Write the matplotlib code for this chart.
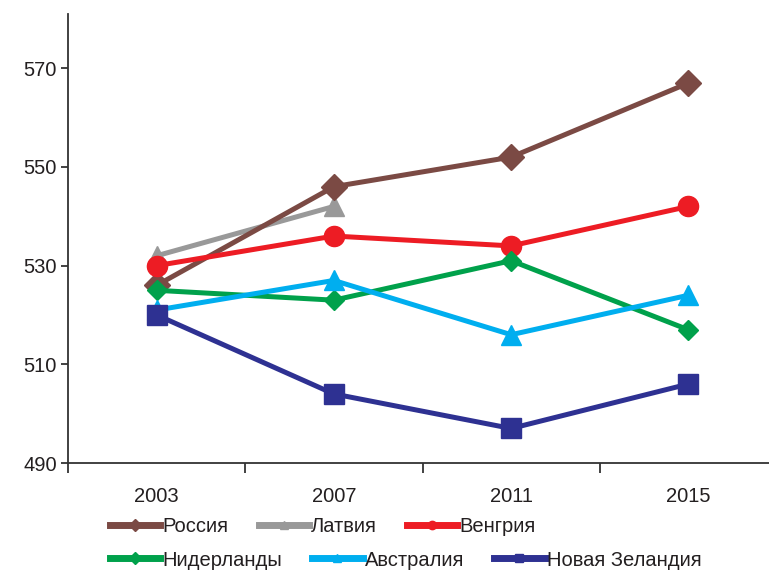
import matplotlib
matplotlib.use("Agg")
import matplotlib.pyplot as plt
from matplotlib.lines import Line2D
import numpy as np

# ── data ──────────────────────────────────────────────────────────────────────
years = ["2003", "2007", "2011", "2015"]

russia      = [526, 546, 552, 567]
latvia      = [532, 542, None, None]
hungary     = [530, 536, 534, 542]
netherlands = [525, 523, 531, 517]
australia   = [521, 527, 516, 524]
new_zealand = [520, 504, 497, 506]

names = ["Россия", "Латвия", "Венгрия", "Нидерланды", "Австралия", "Новая Зеландия"]

# ── styles ────────────────────────────────────────────────────────────────────
C_RU = "#7B4A44"
C_LV = "#999999"
C_HU = "#ED1C24"
C_NL = "#00A14B"
C_AU = "#00AEEF"
C_NZ = "#2E3192"
TXT = "#231F20"

plt.rcParams["font.family"] = ["Liberation Sans", "DejaVu Sans"]

fig = plt.figure(figsize=(7.69, 5.73), dpi=100)
ax = fig.add_axes([68 / 769, 110 / 573, 709 / 769, 449 / 573])

x = np.arange(len(years))


def arr(vals):
    return np.array([np.nan if v is None else v for v in vals], dtype=float)


LW = 3.6
ax.plot(x, arr(latvia), color=C_LV, lw=LW, marker="^", ms=14, zorder=2)
ax.plot(x, arr(russia), color=C_RU, lw=LW, marker="D", ms=13, zorder=3)
ax.plot(x, arr(hungary), color=C_HU, lw=LW, marker="o", ms=14.5, zorder=4)
ax.plot(x, arr(netherlands), color=C_NL, lw=LW, marker="D", ms=10, zorder=5)
ax.plot(x, arr(australia), color=C_AU, lw=LW, marker="^", ms=14.5, zorder=6)
ax.plot(x, arr(new_zealand), color=C_NZ, lw=LW, marker="s", ms=15, zorder=7)

ax.set_xlim(-0.5, 3.5)
ax.set_ylim(490, 581)
ax.set_yticks([490, 510, 530, 550, 570])

# category labels at centres, tick marks at boundaries
ax.set_xticks(x)
ax.set_xticklabels(years)
ax.set_xticks(np.arange(-0.5, 3.0, 1.0), minor=True)
ax.tick_params(axis="x", which="major", length=0, pad=17, labelsize=14.5, labelcolor=TXT)
ax.tick_params(axis="x", which="minor", length=7, width=1.3, direction="out", color="#333333")
ax.tick_params(axis="y", length=5, width=1.3, direction="out", pad=3, labelsize=14.5,
               labelcolor=TXT, color="#333333")

for s in ["top", "right"]:
    ax.spines[s].set_visible(False)
for s in ["left", "bottom"]:
    ax.spines[s].set_linewidth(1.3)
    ax.spines[s].set_color("#333333")

# ── legend in two flowed rows ────────────────────────────────────────────────
def handle(c, m, ms):
    return Line2D([], [], color=c, lw=5, marker=m, ms=ms)

row1 = [handle(C_RU, "D", 6), handle(C_LV, "^", 6), handle(C_HU, "o", 6)]
row2 = [handle(C_NL, "D", 6), handle(C_AU, "^", 6), handle(C_NZ, "s", 6)]

kw = dict(ncol=3, frameon=False, fontsize=14.5, handlelength=2.5, handletextpad=0.1,
          columnspacing=1.5, borderpad=0, borderaxespad=0, loc="center left",
          labelcolor=TXT)
leg1 = fig.legend(row1, names[:3], bbox_to_anchor=(110 / 769, 1 - 527 / 573), **kw)
leg2 = fig.legend(row2, names[3:], bbox_to_anchor=(110 / 769, 1 - 560 / 573), **kw)

fig.savefig("out.png", dpi=100)
